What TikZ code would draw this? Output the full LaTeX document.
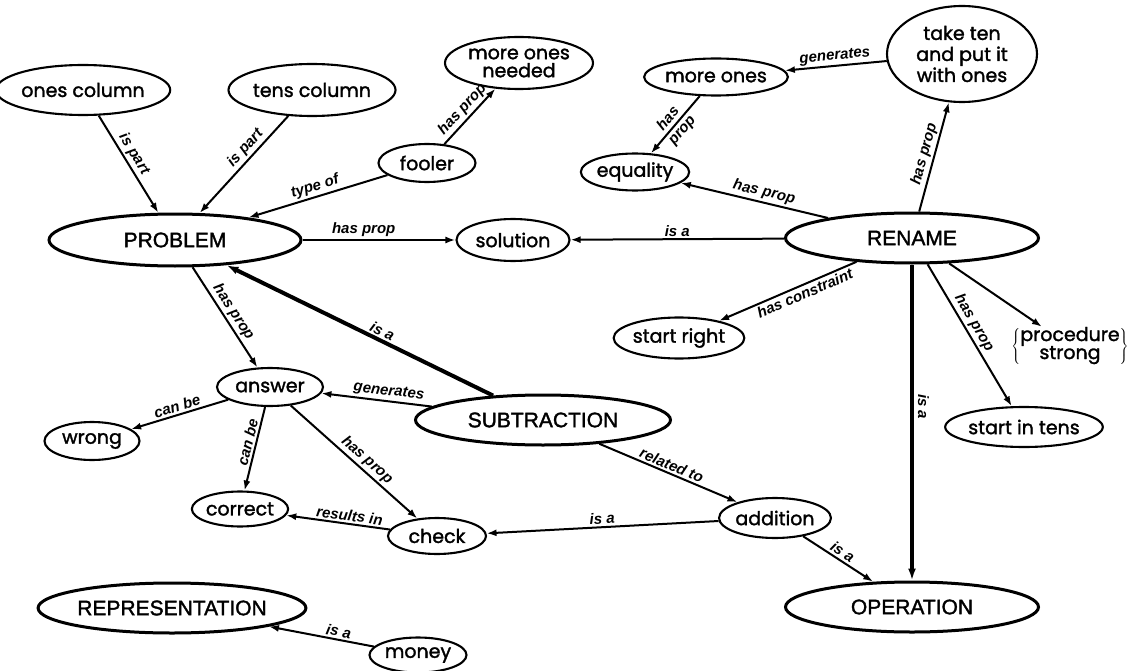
\documentclass[tikz,border=0pt]{standalone}
\usepackage{fontspec}
\usetikzlibrary{shapes.geometric,arrows.meta}
\newfontfamily\nodefont{Poppins}[FakeBold=1.6]
\newfontfamily\capfont{Liberation Sans}[FakeBold=1.6]
\newfontfamily\labfont{Liberation Sans}
\begin{document}
\begin{tikzpicture}[x=1pt,y=-1pt,
  n/.style={ellipse, draw, line width=2.1pt, inner sep=0pt, align=center,
    font=\nodefont\fontsize{19}{20}\selectfont},
  N/.style={ellipse, draw, line width=3pt, inner sep=0pt,
    font=\capfont\fontsize{21}{22}\selectfont},
  labfnt/.style={font=\labfont\bfseries\itshape\fontsize{15}{15}\selectfont},
  lab/.style={labfnt, sloped, above, inner sep=2pt},
  arr/.style={-{Latex[length=10pt,width=7pt]}, line width=2pt},
  tarr/.style={-{Latex[length=12pt,width=8pt]}, line width=4pt}]
\useasboundingbox (0,0) rectangle (1129,671);
% nodes
\node[n, minimum width=147pt, minimum height=50pt] (ones) at (83,90) {ones column};
\node[n, minimum width=150pt, minimum height=52pt] (tens) at (312,90) {tens column};
\node[n, minimum width=148pt, minimum height=52pt] (mon) at (519,63) {more ones\\[-2pt]needed};
\node[n, minimum width=97pt, minimum height=38pt] (fooler) at (427,163) {fooler};
\node[n, minimum width=134pt, minimum height=37pt] (more) at (716,77) {more ones};
\node[n, minimum width=150pt, minimum height=96pt] (take) at (962,54) {take ten\\[1pt]and put it\\[1pt]with ones};
\node[n, minimum width=104pt, minimum height=37pt] (equal) at (635,172) {equality};
\node[N, minimum width=252pt, minimum height=52pt] (problem) at (175,240) {PROBLEM};
\node[n, minimum width=113pt, minimum height=42pt] (solution) at (513,240) {solution};
\node[N, minimum width=253pt, minimum height=50pt] (rename) at (912,238) {RENAME};
\node[n, minimum width=122pt, minimum height=41pt] (sright) at (679,338) {start right};
\node[inner sep=0pt, font=\nodefont\fontsize{19}{20}\selectfont] (proc) at (1070,346)
  {$\left\{\begin{tabular}{@{}c@{}}procedure\\[-2pt]strong\end{tabular}\right\}$};
\node[n, minimum width=150pt, minimum height=40pt] (stens) at (1024,427) {start in tens};
\node[n, minimum width=106pt, minimum height=38pt] (answer) at (270,387) {answer};
\node[n, minimum width=95pt, minimum height=38pt] (wrong) at (92,441) {wrong};
\node[N, minimum width=255pt, minimum height=50pt] (sub) at (543,420) {SUBTRACTION};
\node[n, minimum width=95pt, minimum height=35pt] (correct) at (240,509) {correct};
\node[n, minimum width=98pt, minimum height=36pt] (check) at (437,536) {check};
\node[n, minimum width=110pt, minimum height=40pt] (add) at (775,518) {addition};
\node[N, minimum width=253pt, minimum height=50pt] (op) at (912,607) {OPERATION};
\node[N, minimum width=255pt, minimum height=50pt] (rep) at (172,608) {REPRESENTATION};
\node[n, minimum width=97pt, minimum height=35pt] (money) at (418,655) {money};
% edges
\draw[arr] (ones) -- node[lab, pos=0.45] {is part} (problem);
\draw[arr] (tens) -- node[lab, pos=0.4] {is part} (problem);
\draw[arr] (fooler) -- node[lab, pos=0.5] {type of} (problem);
\draw[arr] (fooler) -- node[lab, pos=0.5] {has prop} (mon);
\draw[arr] (problem) -- node[lab, pos=0.4] {has prop} (solution);
\draw[arr] (rename) -- node[lab, pos=0.5] {is a} (solution);
\draw[arr] (rename) -- node[lab, pos=0.45] {has prop} (equal);
\draw[arr] (more) -- node[labfnt, sloped, pos=0.5, anchor=center, align=center, inner sep=0pt] {has\\[3pt]prop} (equal);
\draw[arr] (take) -- node[lab, pos=0.5] {generates} (more);
\draw[arr] (rename) -- node[lab, pos=0.5] {has prop} (take);
\draw[arr] (rename) -- node[lab, below, pos=0.4] {has constraint} (sright);
\draw[tarr] (rename) -- node[labfnt, pos=0.45, rotate=-90, above, inner sep=4pt] {is a} (op);
\draw[arr] (rename) -- node[lab, pos=0.45] {has prop} (stens);
\draw[arr] (rename) -- (proc);
\draw[arr] (problem) -- node[lab, pos=0.5] {has prop} (answer);
\draw[tarr] (sub) -- node[lab, pos=0.43] {is a} (problem);
\draw[arr] (sub) -- node[lab, pos=0.4] {generates} (answer);
\draw[arr] (answer) -- node[lab, pos=0.5] {can be} (wrong);
\draw[arr] (answer) -- node[lab, pos=0.45] {can be} (correct);
\draw[arr] (answer) -- node[lab, pos=0.55] {has prop} (check);
\draw[arr] (check) -- node[lab, pos=0.4] {results in} (correct);
\draw[arr] (sub) -- node[lab, pos=0.5] {related to} (add);
\draw[arr] (add) -- node[lab, pos=0.5] {is a} (check);
\draw[arr] (add) -- node[lab, pos=0.5] {is a} (op);
\draw[arr] (money) -- node[lab, pos=0.35] {is a} (rep);
\end{tikzpicture}
\end{document}
